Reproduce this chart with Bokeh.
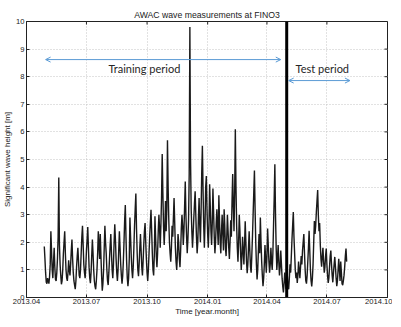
import math
import pandas as pd
from bokeh.plotting import figure
from bokeh.models import (FixedTicker, Arrow, OpenHead, Label, Range1d)
from bokeh.embed import file_html
from bokeh.resources import INLINE

# ---------------- data ----------------
axis_start = "2013-04-01"
axis_end = "2014-10-01"
tick_dates = ["2013-04-01", "2013-07-01", "2013-10-01", "2014-01-01",
              "2014-04-01", "2014-07-01", "2014-10-01"]
tick_labels = ["2013.04", "2013.07", "2013.10", "2014.01", "2014.04", "2014.07", "2014.10"]
y_ticks = [0, 1, 2, 3, 4, 5, 6, 7, 8, 9, 10]

series_start = "2013-04-28"   # daily values
heights = [
    1.85, 1.4, 0.9, 0.55, 0.5, 0.7, 0.6, 0.5, 0.75, 1.2,
    2.4, 1.7, 1.0, 0.7, 1.3, 1.8, 1.1, 0.65, 0.6, 0.9,
    1.4, 2.2, 4.35, 1.9, 1.2, 0.8, 0.48, 0.6, 1.0, 1.6,
    2.0, 2.4, 1.6, 1.0, 0.7, 0.6, 0.9, 1.35, 1.0, 0.8,
    1.2, 1.7, 2.1, 1.4, 0.9, 0.6, 0.45, 0.3, 0.6, 1.1,
    1.5, 1.8, 1.3, 0.8, 0.7, 1.0, 1.6, 2.2, 2.6, 1.9,
    1.2, 0.9, 0.7, 1.1, 1.7, 2.1, 2.55, 1.8, 1.1, 0.7,
    0.52, 0.9, 1.5, 2.1, 1.6, 1.0, 0.6, 0.4, 0.3, 0.6,
    1.0, 1.6, 2.4, 1.9, 1.4, 2.3, 1.5, 0.8, 0.25, 0.5,
    1.0, 1.8, 2.6, 2.0, 1.6, 1.0, 0.6, 0.45, 0.9, 1.4,
    1.9, 2.3, 1.6, 1.0, 0.7, 1.2, 2.0, 2.65, 2.1, 1.4,
    0.9, 0.6, 1.0, 1.7, 2.4, 1.8, 1.2, 0.8, 0.5, 0.77,
    1.3, 2.0, 2.8, 3.35, 2.2, 1.3, 0.7, 0.41, 0.7, 1.4,
    2.9, 2.2, 1.5, 1.0, 0.7, 1.1, 1.8, 2.6, 3.2, 3.77,
    2.5, 1.6, 1.0, 0.77, 1.2, 1.8, 2.3, 1.7, 1.1, 0.8,
    1.3, 1.9, 2.4, 2.7, 2.0, 1.4, 0.9, 0.6, 1.0, 1.6,
    2.2, 2.7, 3.18, 2.4, 1.6, 1.0, 0.8, 1.5, 2.94, 2.2,
    1.5, 1.1, 1.6, 2.4, 3.0, 2.5, 1.8, 2.6, 3.6, 5.2,
    3.8, 2.6, 1.9, 2.5, 3.5, 2.4, 3.2, 5.7, 4.0, 2.8,
    2.0, 1.6, 1.3, 1.8, 2.6, 2.2, 2.9, 3.6, 2.7, 1.8,
    1.3, 1.0, 1.5, 2.3, 2.0, 1.4, 1.1, 1.7, 2.5, 3.0,
    2.6, 1.9, 2.4, 3.3, 4.2, 3.0, 2.2, 1.6, 2.1, 2.8,
    4.5, 9.8, 5.0, 3.2, 2.4, 1.8, 2.3, 2.9, 3.4, 3.85,
    3.0, 2.2, 1.6, 2.0, 2.9, 3.6, 2.6, 2.0, 3.1, 4.5,
    5.5, 3.9, 2.6, 1.8, 2.7, 4.0, 4.4, 3.2, 2.3, 1.8,
    2.6, 4.1, 3.3, 2.4, 1.9, 2.7, 3.95, 3.1, 2.2, 1.6,
    2.0, 2.7, 3.2, 2.5, 1.9, 3.7, 2.8, 2.0, 1.6, 2.4,
    3.0, 2.3, 1.7, 3.2, 2.6, 1.8, 1.5, 2.2, 3.0, 2.4,
    1.8, 1.4, 2.0, 2.8, 2.2, 3.5, 4.47, 3.3, 2.4, 3.8,
    6.1, 4.0, 2.6, 1.8, 1.3, 2.0, 3.0, 2.4, 1.6, 1.0,
    1.5, 2.2, 1.7, 1.2, 1.9, 2.76, 2.0, 1.3, 0.88, 1.2,
    1.8, 2.4, 1.7, 1.1, 0.9, 1.5, 2.2, 3.0, 3.8, 4.6,
    3.2, 2.0, 1.2, 0.65, 1.0, 1.7, 2.3, 1.6, 2.9, 2.0,
    1.3, 0.8, 0.41, 0.7, 1.2, 1.9, 1.4, 0.9, 1.5, 2.5,
    1.9, 1.3, 0.9, 1.2, 1.8, 1.3, 1.0, 1.6, 2.6, 3.6,
    4.83, 3.0, 1.8, 1.0, 1.4, 1.9, 1.3, 0.8, 1.1, 1.7,
    1.2, 0.7, 0.4, 0.18, 0.5, 0.9, 0.6, 0.3, 0.5, 0.77,
    0.4, 0.3, 0.7, 1.2, 0.9, 1.5, 2.1, 2.6, 3.1, 2.2,
    1.6, 1.0, 0.7, 0.9, 0.53, 0.8, 1.3, 1.0, 0.7, 1.1,
    1.5, 1.2, 1.7, 2.0, 2.3, 1.6, 1.0, 0.6, 0.5, 0.8,
    1.3, 1.8, 2.42, 1.7, 1.0, 0.6, 0.4, 0.7, 1.2, 2.0,
    2.77, 2.3, 2.6, 3.1, 3.5, 3.89, 3.0, 2.4, 2.7, 1.9,
    1.4, 1.12, 1.5, 1.8, 1.3, 0.9, 1.1, 1.5, 1.77, 1.2,
    0.8, 0.53, 0.7, 1.1, 1.5, 1.7, 1.2, 0.8, 0.55, 0.9,
    1.2, 1.47, 1.1, 0.7, 0.41, 0.6, 1.0, 1.4, 1.0, 0.6,
    1.3, 0.9, 0.5, 0.45, 0.6, 0.8, 1.1, 1.5, 1.77, 1.3,
]

split_date = "2014-05-01"
title_text = "AWAC wave measurements at FINO3"
x_title = "Time [year.month]"
y_title = "Significant wave height [m]"
train_text = "Training period"
test_text = "Test period"

# ---------------- helpers ----------------
t0 = pd.Timestamp(axis_start)
def day(d):
    return (pd.Timestamp(d) - t0).days

tick_pos = [day(d) for d in tick_dates]
dates = pd.date_range(series_start, periods=len(heights), freq="D")
xs = [(d - t0).days for d in dates]
x0, x1 = day(axis_start), day(axis_end)
y0, y1 = y_ticks[0], y_ticks[-1]

FONT = "Liberation Sans"
ANN_FONT = "Lato"
BLUE = "#5b9bd5"
INK = "#222222"

p = figure(width=392, height=318, output_backend="svg", toolbar_location=None,
           x_range=Range1d(x0, x1), y_range=Range1d(y0, y1),
           min_border_left=22, min_border_right=5, min_border_top=21, min_border_bottom=2,
           background_fill_color="white", border_fill_color="white")

p.title.text = title_text
p.title.align = "center"
p.title.text_font = FONT
p.title.text_font_style = "normal"
p.title.text_font_size = "8.7px"
p.title.text_color = INK
p.title.standoff = 3
p.title.offset = 0

p.outline_line_color = INK
p.outline_line_width = 1

xt = FixedTicker(ticks=tick_pos)
yt = FixedTicker(ticks=y_ticks)

for ax in p.xaxis:
    ax.ticker = xt
    ax.major_label_overrides = {tp: lab for tp, lab in zip(tick_pos, tick_labels)}
    ax.axis_label = x_title
for ax in p.yaxis:
    ax.ticker = yt
    ax.axis_label = y_title

for ax in list(p.xaxis) + list(p.yaxis):
    ax.major_tick_in = 3
    ax.major_tick_out = 0
    ax.minor_tick_line_color = None
    ax.axis_line_color = INK
    ax.major_tick_line_color = INK
    ax.major_label_text_font = FONT
    ax.major_label_text_font_size = "7.6px"
    ax.major_label_text_color = INK
    ax.axis_label_text_font = FONT
    ax.axis_label_text_font_style = "normal"
    ax.axis_label_text_font_size = "8px"
    ax.axis_label_text_color = INK
    ax.major_label_standoff = 2
    ax.axis_label_standoff = 1
for ax in p.xaxis:
    ax.major_label_standoff = 1
    ax.axis_label_standoff = 0

p.xgrid.ticker = xt
p.ygrid.ticker = yt
for g in (p.xgrid, p.ygrid):
    g.grid_line_color = "#c4c4c4"
    g.grid_line_dash = "1 2"
    g.grid_line_width = 1

# mirrored inward ticks on top and right edges of the box
p.ray(x=tick_pos, y=[y1] * len(tick_pos), length=3, length_units="screen",
      angle=-math.pi / 2, line_color=INK, line_width=1)
p.ray(x=[x1] * len(y_ticks), y=y_ticks, length=3, length_units="screen",
      angle=math.pi, line_color=INK, line_width=1)

p.line(xs, heights, line_color="#1a1a1a", line_width=1.4)

# training / test split
p.segment(x0=[day(split_date)], y0=[y0], x1=[day(split_date)], y1=[y1],
          line_color="black", line_width=3)

# annotations
p.add_layout(Arrow(start=OpenHead(size=5, line_color=BLUE, line_width=1),
                   end=OpenHead(size=5, line_color=BLUE, line_width=1),
                   x_start=day("2013-04-30"), y_start=8.62,
                   x_end=day("2014-04-22"), y_end=8.62,
                   line_color=BLUE, line_width=1))
p.add_layout(Arrow(start=OpenHead(size=5, line_color=BLUE, line_width=1),
                   end=OpenHead(size=5, line_color=BLUE, line_width=1),
                   x_start=day("2014-05-04"), y_start=7.86,
                   x_end=day("2014-08-05"), y_end=7.86,
                   line_color=BLUE, line_width=1))
p.add_layout(Label(x=day("2013-09-27"), y=8.3, text=train_text, text_font=ANN_FONT,
                   text_font_size="11px", text_color="#262626",
                   text_align="center", text_baseline="middle"))
p.add_layout(Label(x=day("2014-06-24"), y=8.3, text=test_text, text_font=ANN_FONT,
                   text_font_size="11px", text_color="#262626",
                   text_align="center", text_baseline="middle"))

open("out.html", "w").write(file_html(p, INLINE))
